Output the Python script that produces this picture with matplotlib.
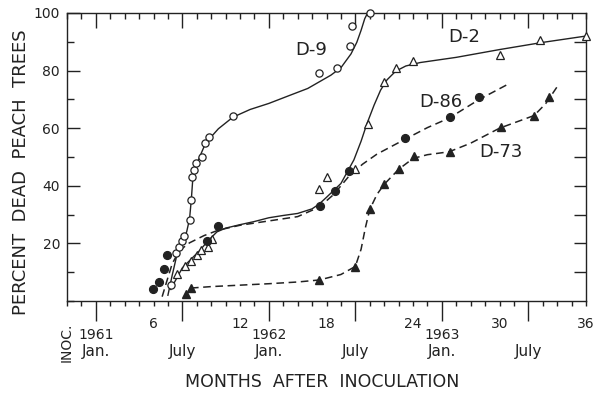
import matplotlib
matplotlib.use("Agg")
import matplotlib.pyplot as plt
import matplotlib.transforms as transforms

# measured points (months after inoculation, percent dead)
d9_months = [7.2, 7.55, 7.75, 7.95, 8.15, 8.5, 8.62, 8.66, 8.78, 8.94, 9.36, 9.54, 9.82, 11.5, 17.5, 18.7, 19.6, 19.75, 21.0]
d9_dead = [5.5, 16.5, 18.6, 20.9, 22.6, 28.0, 35.2, 42.9, 45.5, 47.9, 49.9, 54.8, 57.1, 64.3, 79.3, 80.8, 88.7, 95.5, 100.0]

d2_months = [7.6, 8.2, 8.6, 9.0, 9.3, 9.75, 10.05, 17.47, 18.0, 20.0, 20.9, 21.98, 22.84, 24.0, 30.0, 32.8, 36.0]
d2_dead = [9.3, 12.0, 13.8, 15.9, 17.6, 18.7, 21.6, 38.8, 42.9, 45.8, 61.4, 76.2, 80.8, 83.4, 85.3, 90.5, 92.1]

d86_months = [5.95, 6.4, 6.7, 6.97, 9.7, 10.5, 17.54, 18.58, 19.55, 23.45, 26.56, 28.6]
d86_dead = [4.1, 6.7, 11.0, 16.0, 21.0, 26.0, 33.0, 38.3, 45.0, 56.5, 63.8, 70.8]

d73_months = [8.24, 8.6, 17.5, 20.0, 21.0, 22.0, 23.0, 24.07, 26.56, 30.1, 32.4, 33.45]
d73_dead = [2.6, 4.5, 7.2, 11.8, 31.8, 40.5, 45.7, 50.2, 51.6, 60.3, 64.4, 71.0]

# hand drawn fitted curves
d9_curve_months = [7.0, 7.3, 7.6, 8.0, 8.3, 8.5, 8.62, 8.72, 8.9, 9.2, 9.5, 10.0, 10.5, 11.5, 12.7, 14.0, 15.5, 16.7, 18.3, 19.0, 19.7, 20.1, 20.4, 20.65, 20.85]
d9_curve_dead = [2.0, 9.0, 15.5, 20.5, 24.0, 28.5, 35.0, 42.0, 46.3, 50.0, 53.5, 57.0, 59.8, 63.8, 66.5, 68.6, 71.5, 73.8, 78.4, 81.0, 85.8, 89.8, 94.0, 98.0, 100.0]

d2_curve_months = [7.2, 7.4, 8.0, 8.6, 9.2, 9.8, 10.4, 11.0, 12.0, 13.0, 14.0, 15.0, 16.0, 17.0, 17.5, 18.0, 19.0, 19.9, 20.4, 20.8, 21.3, 21.75, 22.2, 22.8, 23.5, 24.5, 27.0, 30.0, 33.0, 36.0]
d2_curve_dead = [4.0, 6.0, 11.5, 14.5, 17.5, 21.0, 24.0, 25.3, 26.5, 27.6, 28.9, 29.7, 30.4, 32.0, 33.7, 36.0, 40.8, 49.0, 55.5, 61.5, 68.0, 73.2, 76.8, 79.8, 81.6, 82.8, 84.6, 87.3, 89.8, 92.0]

d86_curve_months = [6.6, 6.9, 7.3, 7.8, 8.5, 9.5, 10.5, 12.0, 14.0, 16.0, 17.5, 18.5, 19.5, 20.5, 21.5, 23.5, 25.0, 26.5, 28.6, 30.6]
d86_curve_dead = [1.5, 6.5, 13.0, 17.5, 20.2, 22.7, 24.6, 26.3, 27.8, 29.3, 32.6, 37.0, 43.0, 47.5, 51.0, 56.3, 60.2, 63.5, 70.0, 75.3]

d73_curve_months = [8.6, 10.0, 12.0, 14.0, 16.0, 17.5, 19.0, 20.0, 20.4, 20.7, 21.0, 21.5, 22.0, 23.0, 24.0, 25.0, 26.5, 28.0, 30.0, 32.4, 33.2, 34.0]
d73_curve_dead = [4.5, 5.0, 5.5, 6.0, 6.6, 7.3, 9.2, 12.0, 18.0, 25.5, 31.8, 37.0, 40.5, 45.7, 49.5, 50.8, 51.8, 54.8, 60.0, 64.4, 68.5, 74.4]

# series labels and where they sit
series_names = ["D-9", "D-2", "D-86", "D-73"]
name_months = [16.96, 27.52, 25.92, 30.09]
name_dead = [87.2, 91.8, 69.2, 51.8]

# bottom axis text
month_numbers = [6, 12, 18, 24, 30, 36]
calendar_months = [2, 8, 14, 20, 26, 32]
calendar_names = ["Jan.", "July", "Jan.", "July", "Jan.", "July"]
year_months = [2, 14, 26]
year_names = ["1961", "1962", "1963"]

ink = "#222222"

fig = plt.figure(figsize=(5.99, 3.93), dpi=100)
ax = fig.add_axes([67 / 599, 92 / 393, 519 / 599, 288 / 393])

# curves first so open markers sit over them
ax.plot(d9_curve_months, d9_curve_dead, color=ink, lw=1.0, clip_on=False)
ax.plot(d2_curve_months, d2_curve_dead, color=ink, lw=1.0, clip_on=False)
ax.plot(d86_curve_months, d86_curve_dead, color=ink, lw=1.1, linestyle=(0, (5, 3)), clip_on=False)
ax.plot(d73_curve_months, d73_curve_dead, color=ink, lw=1.1, linestyle=(0, (5, 3)), clip_on=False)

ax.plot(d9_months, d9_dead, "o", ms=5.2, mfc="white", mec=ink, mew=0.9, clip_on=False, zorder=3)
ax.plot(d2_months, d2_dead, "^", ms=6.0, mfc="white", mec=ink, mew=0.9, clip_on=False, zorder=3)
ax.plot(d86_months, d86_dead, "o", ms=5.6, color=ink, clip_on=False, zorder=3)
ax.plot(d73_months, d73_dead, "^", ms=6.0, color=ink, clip_on=False, zorder=3)

for name, m, p in zip(series_names, name_months, name_dead):
    ax.text(m, p, name, fontsize=13, color=ink, ha="center", va="center")

ax.set_xlim(0, 36)
ax.set_ylim(0, 100)
for side in ax.spines:
    ax.spines[side].set_linewidth(1.0)
    ax.spines[side].set_color(ink)

# bottom: month ticks hanging down, long ones at Jan / July
ax.set_xticks(calendar_months)
ax.set_xticks(range(0, 37), minor=True)
ax.tick_params(axis="x", which="major", direction="out", length=14.4, width=1.0, color=ink, labelbottom=False)
ax.tick_params(axis="x", which="minor", direction="out", length=3.6, width=1.0, color=ink)

# left: percent ticks pointing in
ax.set_yticks([20, 40, 60, 80, 100])
ax.set_yticks(range(0, 101, 10), minor=True)
ax.tick_params(axis="y", which="major", direction="in", length=9.4, width=1.0, color=ink, pad=5, labelsize=10, labelcolor=ink)
ax.tick_params(axis="y", which="minor", direction="in", length=5, width=1.0, color=ink)

# top and right carry ticks only
top = ax.secondary_xaxis("top")
top.set_xticks(calendar_months)
top.set_xticks(range(0, 37), minor=True)
top.tick_params(axis="x", which="major", direction="in", length=11, width=1.0, color=ink, labeltop=False)
top.tick_params(axis="x", which="minor", direction="in", length=4, width=1.0, color=ink)
top.spines["top"].set_visible(False)

right = ax.secondary_yaxis("right")
right.set_yticks(range(10, 100, 10))
right.tick_params(axis="y", which="major", direction="in", length=9, width=1.0, color=ink, labelright=False)
right.spines["right"].set_visible(False)

# text under the x axis
trans = transforms.blended_transform_factory(ax.transData, ax.transAxes)
for m in month_numbers:
    ax.text(m, -0.08, str(m), transform=trans, fontsize=10, color=ink, ha="center", va="center")
for m, name in zip(year_months, year_names):
    ax.text(m, -0.118, name, transform=trans, fontsize=10, color=ink, ha="center", va="center")
for m, name in zip(calendar_months, calendar_names):
    ax.text(m, -0.177, name, transform=trans, fontsize=11, color=ink, ha="center", va="center")
ax.text(0, -0.143, "INOC.", transform=trans, fontsize=10, color=ink, ha="center", va="center", rotation=90)

fig.text(322 / 599, 1 - 382 / 393, "MONTHS  AFTER  INOCULATION", fontsize=12.5, color=ink, ha="center", va="center")
fig.text(21 / 599, 1 - 172 / 393, "PERCENT  DEAD  PEACH  TREES", fontsize=13, color=ink, ha="center", va="center", rotation=90)

fig.savefig("out.png", dpi=100, facecolor="white")
